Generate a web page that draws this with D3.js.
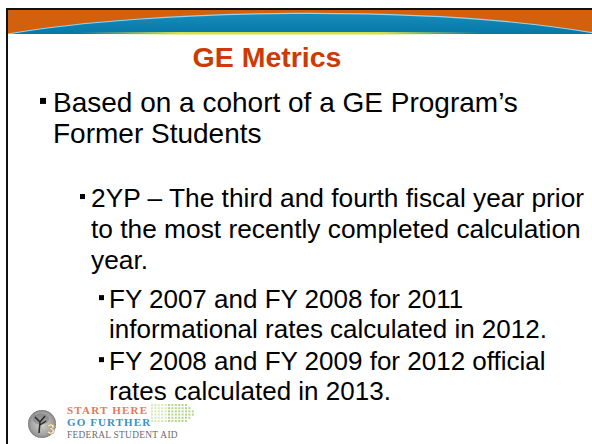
<!DOCTYPE html>
<html>
<head>
<meta charset="utf-8">
<script src="https://cdn.jsdelivr.net/npm/d3@7"></script>
<style>
html,body{margin:0;padding:0;background:#fff;}
svg{display:block;}
</style>
</head>
<body>
<script>
// ---- content data ----
const titleText = "GE Metrics";
const bulletTexts = [
  ["Based on a cohort of a GE Program\u2019s", "Former Students"],
  ["2YP \u2013 The third and fourth fiscal year prior", "to the most recently completed calculation", "year."],
  ["FY 2007 and FY 2008 for 2011", "informational rates calculated in 2012."],
  ["FY 2008 and FY 2009 for 2012 official", "rates calculated in 2013."]
];
const bulletLevels = [1, 2, 3, 3];
const logoLines = ["START HERE", "GO FURTHER", "FEDERAL STUDENT AID"];
const slideNumber = "3";

// ---- layout ----
const W = 592, H = 444;
const svg = d3.select("body").append("svg").attr("width", W).attr("height", H);
const defs = svg.append("defs");

const blueGrad = defs.append("linearGradient").attr("id","blueGrad").attr("x1",0).attr("y1",0).attr("x2",0).attr("y2",1);
blueGrad.append("stop").attr("offset","0%").attr("stop-color","#1a8cbc");
blueGrad.append("stop").attr("offset","100%").attr("stop-color","#0678a8");

const ygGrad = defs.append("linearGradient").attr("id","ygGrad").attr("x1",0).attr("x2",1);
ygGrad.append("stop").attr("offset","0%").attr("stop-color","#d8e060").attr("stop-opacity",0);
ygGrad.append("stop").attr("offset","25%").attr("stop-color","#d4e04a").attr("stop-opacity",1);
ygGrad.append("stop").attr("offset","75%").attr("stop-color","#d4e04a").attr("stop-opacity",1);
ygGrad.append("stop").attr("offset","100%").attr("stop-color","#d8e060").attr("stop-opacity",0);

const sealGrad = defs.append("radialGradient").attr("id","sealGrad");
sealGrad.append("stop").attr("offset","0%").attr("stop-color","#cfcfcf");
sealGrad.append("stop").attr("offset","70%").attr("stop-color","#a8a8a8");
sealGrad.append("stop").attr("offset","100%").attr("stop-color","#8a8a8a");

// header band
svg.append("rect").attr("x",8).attr("y",10).attr("width",W-8).attr("height",24).attr("fill","#d2600c");
const arcPath = d3.path();
arcPath.moveTo(8, 34);
arcPath.bezierCurveTo(150, 9, 430, 4, 600, 34);
arcPath.closePath();
svg.append("path").attr("d", arcPath.toString()).attr("fill","url(#blueGrad)");
const arcLine = d3.path();
arcLine.moveTo(8, 34);
arcLine.bezierCurveTo(150, 9, 430, 4, 600, 34);
svg.append("path").attr("d", arcLine.toString()).attr("fill","none").attr("stroke","#8fd6f0").attr("stroke-width",1.2);
svg.append("rect").attr("x",8).attr("y",34).attr("width",W-8).attr("height",H-34).attr("fill","#fff");
svg.append("rect").attr("x",80).attr("y",32).attr("width",400).attr("height",2.5).attr("fill","url(#ygGrad)");

// frame lines
svg.append("rect").attr("x",6).attr("y",8).attr("width",W-6).attr("height",2).attr("fill","#111");
svg.append("rect").attr("x",6).attr("y",8).attr("width",2).attr("height",H-8).attr("fill","#111");

// title
svg.append("text").attr("x",267).attr("y",67).attr("text-anchor","middle")
  .attr("font-family","'Liberation Sans', Arial, sans-serif").attr("font-weight","bold")
  .attr("font-size",28.5).attr("fill","#cc3a06").text(titleText);

// bullets
const levelCfg = {
  1: {bx: 40, tx: 53, size: 28, bs: 6},
  2: {bx: 80, tx: 91, size: 26.3, bs: 5},
  3: {bx: 99, tx: 109, size: 26, bs: 5}
};
const firstBaselines = [112, 207, 308, 370];
const lineGaps = [31, 31, 30, 30];

const g = svg.append("g").attr("font-family","'Liberation Sans', Arial, sans-serif").attr("fill","#000");
bulletTexts.forEach((lines, i) => {
  const cfg = levelCfg[bulletLevels[i]];
  const by = firstBaselines[i];
  g.append("rect").attr("x", cfg.bx).attr("y", by - cfg.size*0.36 - cfg.bs/2 - 1)
    .attr("width", cfg.bs).attr("height", cfg.bs).attr("fill","#000");
  lines.forEach((t, j) => {
    g.append("text").attr("x", cfg.tx).attr("y", by + j*lineGaps[i])
      .attr("font-size", cfg.size).text(t);
  });
});

// logo
const logo = svg.append("g");
logo.append("circle").attr("cx",42).attr("cy",424).attr("r",14).attr("fill","url(#sealGrad)");
logo.append("circle").attr("cx",42).attr("cy",424).attr("r",13.5).attr("fill","none").attr("stroke","#7a7a7a").attr("stroke-width",1).attr("stroke-dasharray","1.5 1.5");
logo.append("ellipse").attr("cx",41).attr("cy",419).attr("rx",8).attr("ry",5.5).attr("fill","#777").attr("opacity",0.55);
logo.append("path").attr("d","M39,433 L40,422 L35,417 M40,422 L45,416 M40,425 L46,421")
  .attr("stroke","#2a2a2a").attr("stroke-width",1.5).attr("fill","none");
logo.append("text").attr("x",47).attr("y",434).attr("font-family","'Liberation Sans', Arial, sans-serif")
  .attr("font-weight","bold").attr("font-size",14).attr("fill","#fff").attr("stroke","#c89a3a").attr("stroke-width",0.6)
  .text(slideNumber);
const dots = [];
for (let r = 0; r < 6; r++) for (let c = 0; c < 14; c++) {
  const x = 151 + c*3.4, y = 404 + r*3.2;
  if (c > 9 && Math.abs(r - 2.5) > (13 - c)) continue;
  dots.push([x, y, c]);
}
logo.selectAll("rect.dot").data(dots).join("rect").attr("class","dot")
  .attr("x", d => d[0]).attr("y", d => d[1]).attr("width",2).attr("height",2)
  .attr("fill", d => d[2] < 5 ? "#d0e6a8" : "#a8cc70").attr("opacity",0.85);
const logoFill = ["#e07a5a", "#3d8fc6", "#6a6a6a"];
const logoY = [414, 426, 438];
const logoSpacing = [1.2, 1.1, 0.3];
const logoSize = [11, 11, 9.4];
logoLines.forEach((t, i) => {
  logo.append("text").attr("x", 67).attr("y", logoY[i])
    .attr("font-family","'Liberation Serif', 'DejaVu Serif', serif").attr("font-weight", i < 2 ? "bold" : "normal")
    .attr("font-size", logoSize[i]).attr("letter-spacing", logoSpacing[i])
    .attr("fill", logoFill[i]).text(t);
});
</script>
</body>
</html>
